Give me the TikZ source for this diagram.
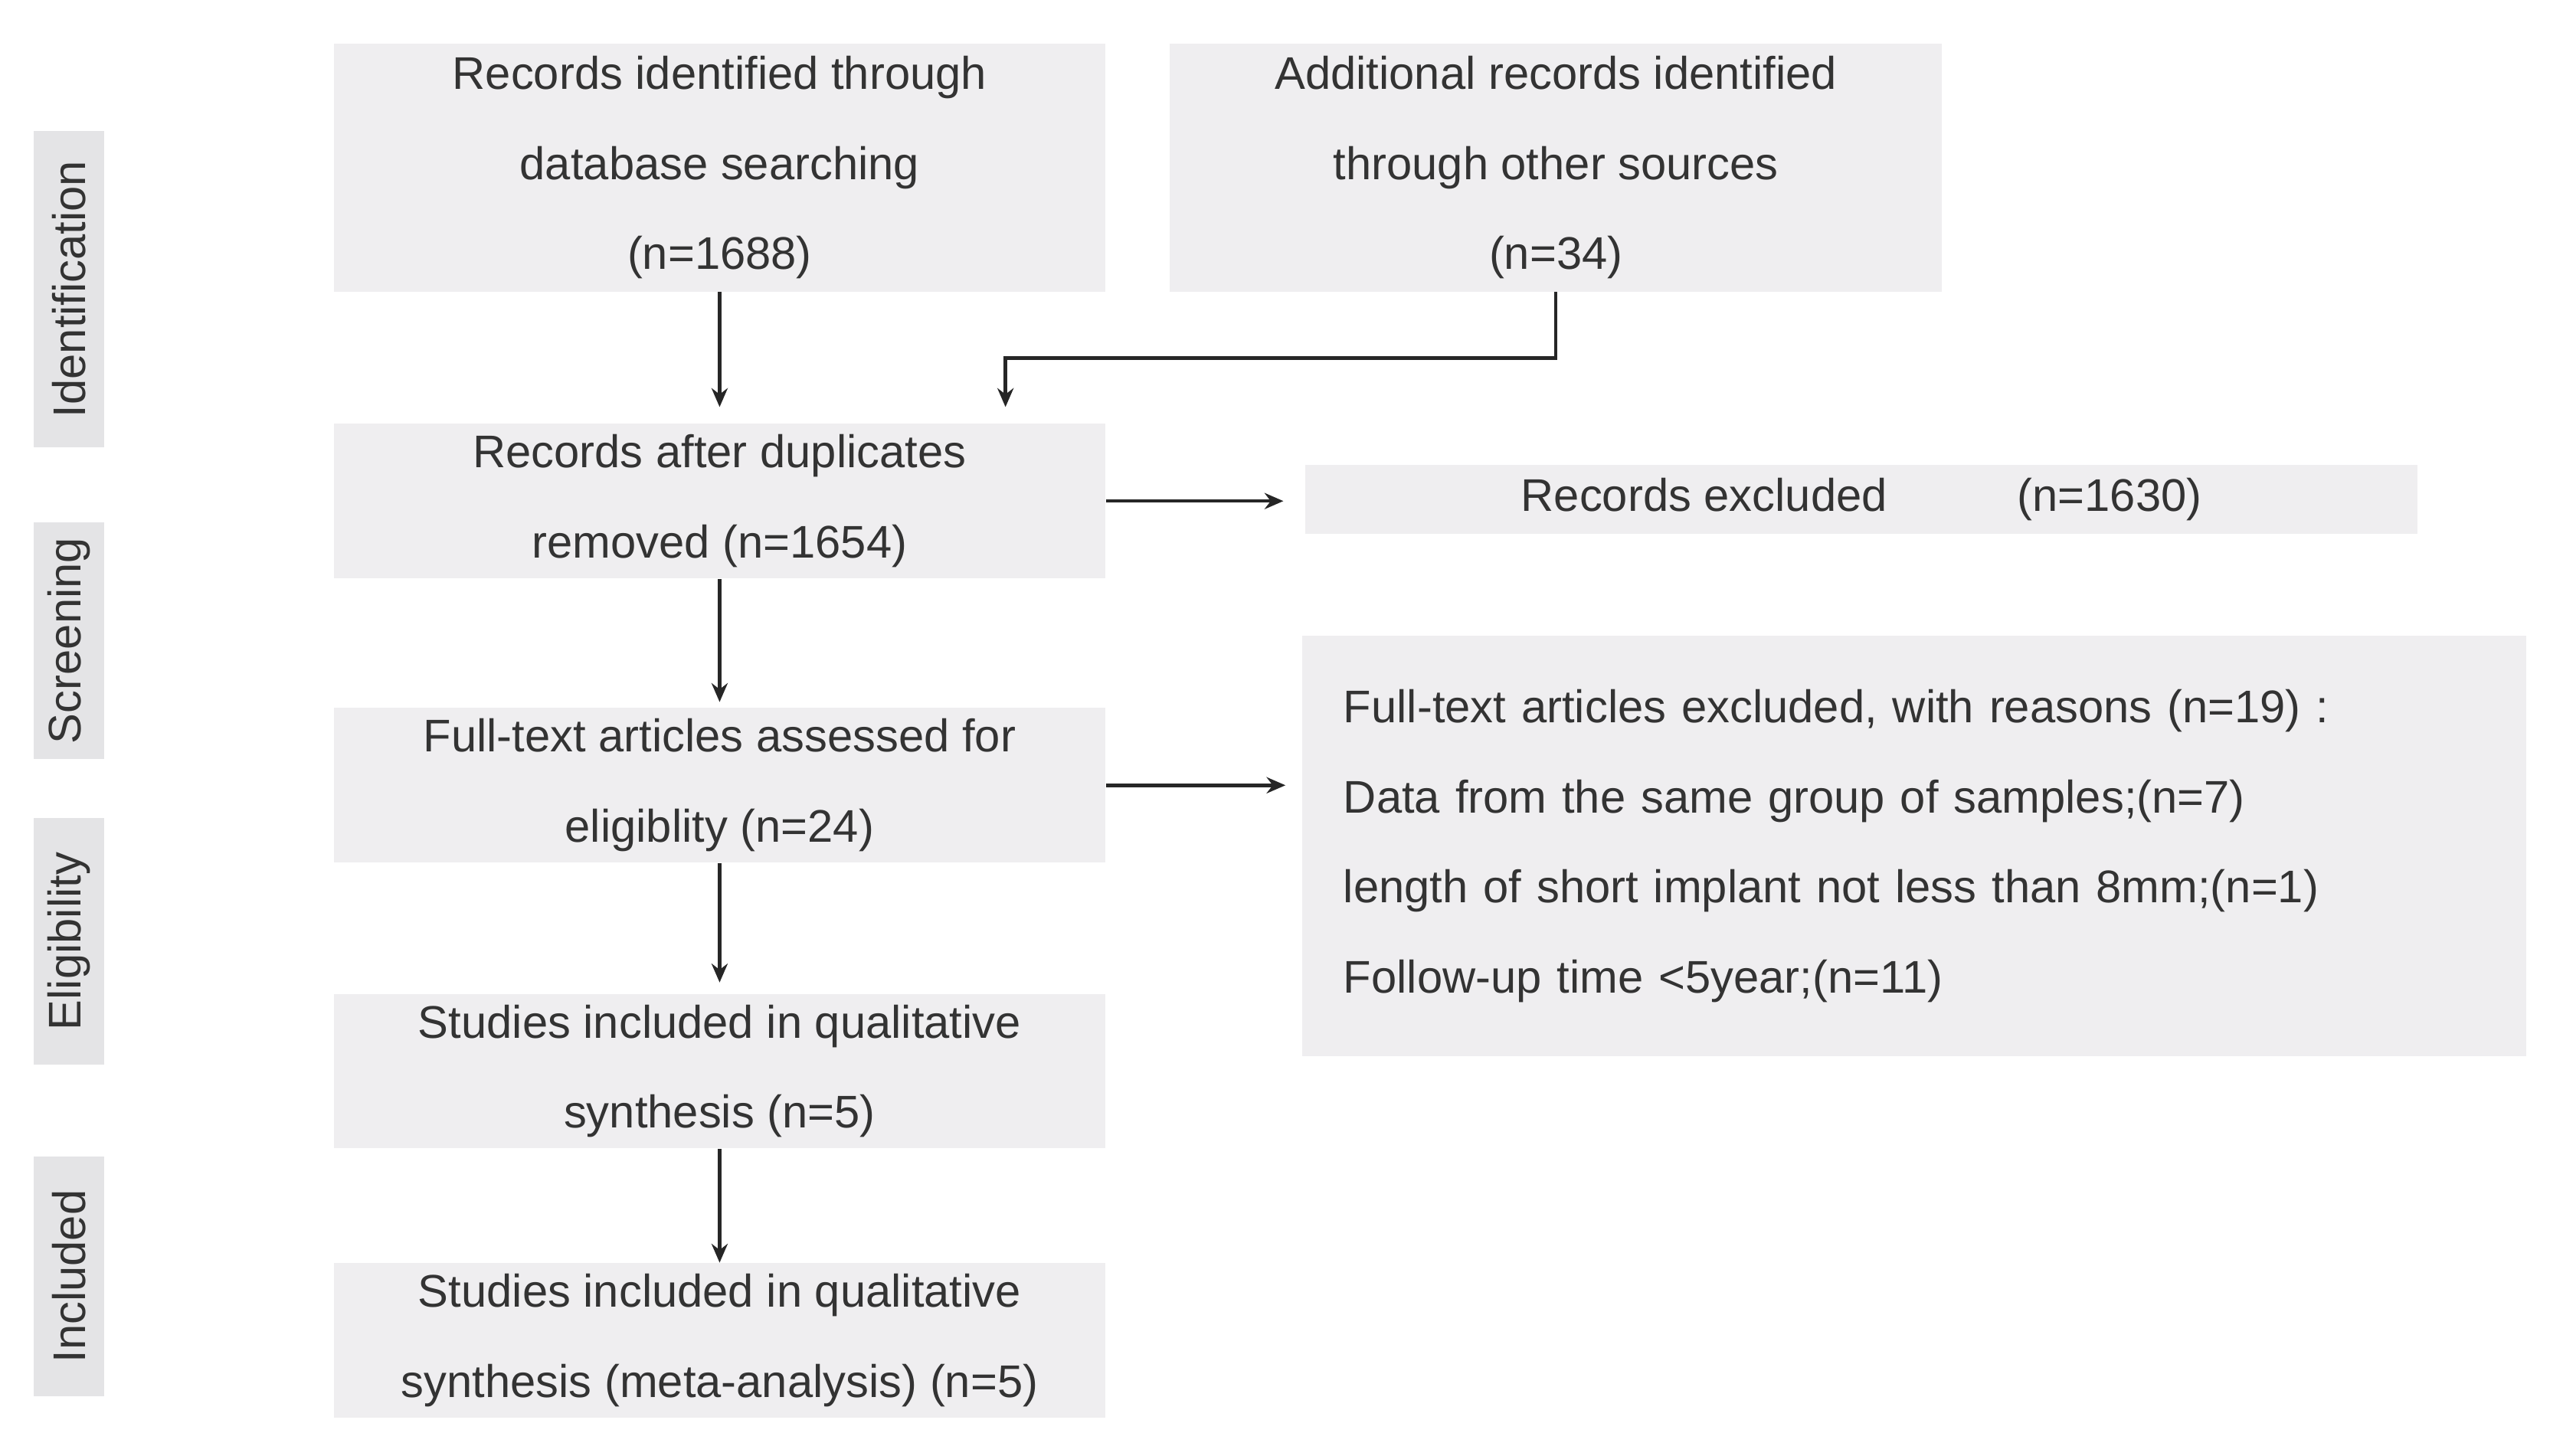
\documentclass[tikz,border=0pt]{standalone}
\usepackage{fontspec}
\setmainfont{Liberation Sans}
\usetikzlibrary{arrows.meta}
\definecolor{boxgray}{HTML}{EFEEF0}
\definecolor{sidegray}{HTML}{E4E4E6}
\definecolor{txtgray}{HTML}{333333}
\tikzset{
	box/.style={fill=boxgray,text=txtgray,align=center,minimum width=10.08cm,
		font=\fontsize{17}{33.5}\selectfont},
	side/.style={fill=sidegray,text=txtgray,rotate=90,minimum height=0.92cm,
		font=\fontsize{17}{20}\selectfont},
	arr/.style={-{Stealth[length=7pt,width=6pt]},line width=1.3pt,black!85},
}
\begin{document}
\begin{tikzpicture}[x=0.02145cm,y=-0.02145cm]
	\useasboundingbox (0,0) rectangle (1560,886) ;
	% phases
	\node[side,minimum width=4.14cm] (ident) at (42,176) {Identification} ;
	\node[side,minimum width=3.09cm] (screen) at (42,390) {Screening} ;
	\node[side,minimum width=3.22cm] (elig) at (42,573) {Eligibility} ;
	\node[side,minimum width=3.13cm] (incl) at (42,777) {Included} ;
	% boxes
	\node[box,minimum height=3.24cm] (db) at (438,102) {Records identified through\\database searching\\(n=1688)} ;
	\node[box,minimum height=3.24cm] (other) at (947,102) {Additional records identified\\through other sources\\(n=34)} ;
	\node[box,minimum height=2.02cm] (dup) at (438,305) {Records after duplicates\\removed (n=1654)} ;
	\node[box,minimum width=14.52cm,minimum height=0.9cm] (excl) at (1133,304) {Records excluded\hspace{1.7cm}(n=1630)} ;
	\node[box,minimum height=2.02cm] (full) at (438,478) {Full-text articles assessed for\\eligiblity (n=24)} ;
	\node[box,minimum width=15.98cm,minimum height=5.49cm,text width=14.9cm,align=left] (reason) at (1165,515)
		{Full-text articles excluded, with reasons (n=19) :\\Data from the same group of samples;(n=7)\\length of short implant not less than 8mm;(n=1)\\Follow-up time <5year;(n=11)} ;
	\node[box,minimum height=2.02cm] (qual) at (438,652) {Studies included in qualitative\\synthesis (n=5)} ;
	\node[box,minimum height=2.02cm] (meta) at (438,816) {Studies included in qualitative\\synthesis (meta-analysis) (n=5)} ;
	% connectors
	\coordinate (elb) at (612,218) ;
	\draw[arr,shorten >=6] (db) -- (dup) ;
	\draw[arr,shorten >=6] (other.south) |- (elb) -- (elb |- dup.north) ;
	\draw[arr,shorten >=8] (dup.east) -- (dup.east -| excl.west) ;
	\draw[arr,shorten >=2] (dup) -- (full) ;
	\draw[arr,shorten >=6] (full.east) -- (full.east -| reason.west) ;
	\draw[arr,shorten >=4] (full) -- (qual) ;
	\draw[arr,shorten <=0] (qual) -- (meta) ;
\end{tikzpicture}
\end{document}
